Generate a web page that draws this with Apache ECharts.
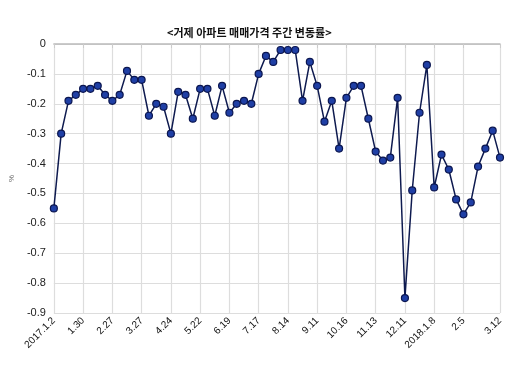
<!DOCTYPE html>
<html><head><meta charset="utf-8">
<script src="https://cdn.jsdelivr.net/npm/echarts@6/dist/echarts.min.js"></script>
<style>html,body{margin:0;padding:0;background:#fff}#c{width:520px;height:369px}</style>
</head><body><div id="c"></div>
<script>
const categories = ["2017.1.2","1.9","1.16","1.23","1.30","2.6","2.13","2.20","2.27","3.6","3.13","3.20","3.27","4.3","4.10","4.17","4.24","5.1","5.8","5.15","5.22","5.29","6.5","6.12","6.19","6.26","7.3","7.10","7.17","7.24","7.31","8.7","8.14","8.21","8.28","9.4","9.11","9.18","9.25","10.9","10.16","10.23","10.30","11.6","11.13","11.20","11.27","12.4","12.11","12.18","12.25","2018.1.1","2018.1.8","1.15","1.22","1.29","2.5","2.12","2.19","2.26","3.5","3.12"];
const values = [-0.55,-0.30,-0.19,-0.17,-0.15,-0.15,-0.14,-0.17,-0.19,-0.17,-0.09,-0.12,-0.12,-0.24,-0.20,-0.21,-0.30,-0.16,-0.17,-0.25,-0.15,-0.15,-0.24,-0.14,-0.23,-0.20,-0.19,-0.20,-0.10,-0.04,-0.06,-0.02,-0.02,-0.02,-0.19,-0.06,-0.14,-0.26,-0.19,-0.35,-0.18,-0.14,-0.14,-0.25,-0.36,-0.39,-0.38,-0.18,-0.85,-0.49,-0.23,-0.07,-0.48,-0.37,-0.42,-0.52,-0.57,-0.53,-0.41,-0.35,-0.29,-0.38];
const labelIdx = [0,4,8,12,16,20,24,28,32,36,40,44,48,52,56,61];
const titleText = "<거제 아파트 매매가격 주간 변동률>";
const showIdx = (i) => labelIdx.indexOf(i) >= 0;

const chart = echarts.init(document.getElementById('c'), null, {renderer:'canvas'});
chart.setOption({
  animation:false,
  title:{text:titleText, left:162, top:22, textStyle:{fontSize:11, fontWeight:'bold', color:'#111', fontFamily:'"Noto Sans CJK KR", sans-serif'}},
  grid:{left:41, right:20, top:44, bottom:56, containLabel:false},
  xAxis:{
    type:'category', data:categories, boundaryGap:false,
    axisLine:{lineStyle:{color:'#bbb', width:1.5}},
    axisTick:{show:true, length:4, interval:(i)=>showIdx(i), lineStyle:{color:'#ccc'}},
    axisLabel:{interval:(i)=>showIdx(i), rotate:45, fontSize:10, color:'#111', margin:6, fontFamily:'"Liberation Sans", Arial, sans-serif'},
    splitLine:{show:true, interval:(i)=>showIdx(i), lineStyle:{color:'#ddd', width:1.2}}
  },
  yAxis:{
    type:'value', min:-0.9, max:0, interval:0.1,
    name:'%', nameLocation:'middle', nameGap:37, nameRotate:90,
    nameTextStyle:{fontSize:8, color:'#666'},
    axisLine:{show:false}, axisTick:{show:false},
    axisLabel:{fontSize:11, color:'#222', margin:8, fontFamily:'"Liberation Sans", Arial, sans-serif'},
    splitLine:{lineStyle:{color:'#ddd', width:1.2}}
  },
  series:[{
    type:'line', data:values, symbol:'circle', symbolSize:7, showSymbol:true, showAllSymbol:true,
    lineStyle:{color:'#0e1a4f', width:1.5},
    itemStyle:{color:'#1f3fa5', borderColor:'#0b1650', borderWidth:1.2}
  }]
});
</script></body></html>
